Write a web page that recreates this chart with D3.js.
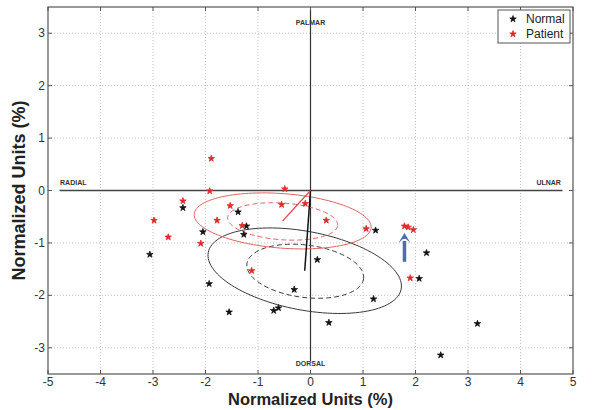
<!DOCTYPE html>
<html><head><meta charset="utf-8">
<script src="https://cdn.jsdelivr.net/npm/d3@7"></script>
<style>body{margin:0;background:#fff}svg{display:block}</style>
</head><body><div id="chart"></div>
<script>
const xTicks = [-5,-4,-3,-2,-1,0,1,2,3,4,5];
const yTicks = [-3,-2,-1,0,1,2,3];
const seriesNames = ["Normal","Patient"];
const normalX = [-2.43,-2.05,-3.06,-1.38,-1.93,-1.55,-1.22,-1.27,1.24,2.21,0.13,2.07,-0.31,1.20,-0.70,-0.61,0.35,3.18,2.48];
const normalY = [-0.33,-0.79,-1.22,-0.41,-1.78,-2.32,-0.68,-0.84,-0.76,-1.19,-1.32,-1.68,-1.89,-2.07,-2.29,-2.24,-2.52,-2.54,-3.14];
const patientX = [-1.89,-1.92,-2.43,-2.98,-2.71,-2.09,-1.78,-1.53,-0.49,-0.55,-0.10,0.30,-1.30,1.06,1.79,1.86,1.96,-1.12,1.90];
const patientY = [0.61,-0.01,-0.20,-0.57,-0.89,-1.01,-0.57,-0.29,0.03,-0.27,-0.25,-0.57,-0.67,-0.73,-0.68,-0.70,-0.75,-1.53,-1.67];
// ellipses: [cx, cy, semi-major, semi-minor, angle(deg)]
const ellNormalSolid = [-0.11,-1.53,1.87,0.75,-10.8];
const ellNormalDash  = [-0.10,-1.54,1.12,0.50,-7.3];
const ellPatientSolid= [-0.53,-0.58,1.69,0.52,-4.4];
const ellPatientDash = [-0.53,-0.59,1.05,0.35,-4.0];
const arrowX = 1.79, arrowY0 = -1.36, arrowY1 = -0.81;

const W=600,H=410, m={l:48,r:27,t:7,b:36};
const svg=d3.select("#chart").append("svg").attr("width",W).attr("height",H);
const x=d3.scaleLinear().domain([-5,5]).range([m.l,W-m.r]);
const y=d3.scaleLinear().domain([-3.5,3.5]).range([H-m.b,m.t]);
const font="Arial, 'Liberation Sans', sans-serif";

// grid
svg.append("g").selectAll("line").data(xTicks.filter(d=>d>-5&&d<5&&d!==0)).join("line")
 .attr("x1",d=>x(d)).attr("x2",d=>x(d)).attr("y1",y(3.5)).attr("y2",y(-3.5))
 .attr("stroke","#c4c4c4").attr("stroke-width",1).attr("stroke-dasharray","1,2");
svg.append("g").selectAll("line").data(yTicks.filter(d=>d!==0)).join("line")
 .attr("y1",d=>y(d)).attr("y2",d=>y(d)).attr("x1",x(-5)).attr("x2",x(5))
 .attr("stroke","#c4c4c4").attr("stroke-width",1).attr("stroke-dasharray","1,2");

// cross lines
svg.append("line").attr("x1",x(-4.78)).attr("x2",x(4.8)).attr("y1",y(0)).attr("y2",y(0)).attr("stroke","#444").attr("stroke-width",1.3);
svg.append("line").attr("x1",x(0)).attr("x2",x(0)).attr("y1",y(3.45)).attr("y2",y(-3.25)).attr("stroke","#333").attr("stroke-width",1.2);

const lab=(t,px,py,anchor)=>svg.append("text").attr("x",px).attr("y",py).attr("text-anchor",anchor)
 .attr("font-family",font).attr("font-size",7).attr("font-weight","bold").attr("fill","#333").text(t);
lab("PALMAR",x(0),y(3.16),"middle");
lab("DORSAL",x(0),y(-3.34),"middle");
lab("RADIAL",x(-4.77),y(0.1),"start");
lab("ULNAR",x(4.77),y(0.1),"end");

// ellipses
function ell(p){
  const [cx,cy,a,b,ang]=p, t=ang*Math.PI/180;
  const pts=d3.range(0,361,3).map(k=>{const u=k*Math.PI/180;
    const ex=a*Math.cos(u), ey=b*Math.sin(u);
    return [x(cx+ex*Math.cos(t)-ey*Math.sin(t)), y(cy+ex*Math.sin(t)+ey*Math.cos(t))];});
  return d3.line()(pts)+"Z";
}
svg.append("path").attr("d",ell(ellNormalSolid)).attr("fill","none").attr("stroke","#3a3a3a").attr("stroke-width",1);
svg.append("path").attr("d",ell(ellNormalDash)).attr("fill","none").attr("stroke","#3a3a3a").attr("stroke-width",1).attr("stroke-dasharray","5,3");
svg.append("path").attr("d",ell(ellPatientSolid)).attr("fill","none").attr("stroke","#e06464").attr("stroke-width",1);
svg.append("path").attr("d",ell(ellPatientDash)).attr("fill","none").attr("stroke","#e06464").attr("stroke-width",1).attr("stroke-dasharray","5,3");

// mean vectors
svg.append("line").attr("x1",x(0)).attr("y1",y(0)).attr("x2",x(ellNormalSolid[0])).attr("y2",y(ellNormalSolid[1])).attr("stroke","#111").attr("stroke-width",1.5);
svg.append("line").attr("x1",x(0)).attr("y1",y(0)).attr("x2",x(ellPatientSolid[0])).attr("y2",y(ellPatientSolid[1])).attr("stroke","#e04848").attr("stroke-width",1.3);

// points
const star=d3.symbol().type(d3.symbolStar).size(13);
svg.append("g").selectAll("path").data(normalX.map((v,i)=>[v,normalY[i]])).join("path")
 .attr("d",star).attr("transform",d=>`translate(${x(d[0])},${y(d[1])})`).attr("fill","#111").attr("stroke","#111").attr("stroke-width",0.8);
svg.append("g").selectAll("path").data(patientX.map((v,i)=>[v,patientY[i]])).join("path")
 .attr("d",star).attr("transform",d=>`translate(${x(d[0])},${y(d[1])})`).attr("fill","#e02828").attr("stroke","#e02828").attr("stroke-width",0.8);

// arrow
const ax=x(arrowX), ay0=y(arrowY0), ay1=y(arrowY1);
svg.append("line").attr("x1",ax).attr("x2",ax).attr("y1",ay0).attr("y2",ay1+8).attr("stroke","#4a6db5").attr("stroke-width",3.5);
svg.append("path").attr("d",`M${ax},${ay1}L${ax-6},${ay1+10}L${ax-1.5},${ay1+6}L${ax+1.5},${ay1+6}L${ax+6},${ay1+10}Z`).attr("fill","#4a6db5");

// frame
svg.append("rect").attr("x",x(-5)).attr("y",y(3.5)).attr("width",x(5)-x(-5)).attr("height",y(-3.5)-y(3.5))
 .attr("fill","none").attr("stroke","#555").attr("stroke-width",1.2);
// ticks inside
svg.append("g").selectAll("line").data(xTicks).join("line").attr("x1",d=>x(d)).attr("x2",d=>x(d))
 .attr("y1",y(-3.5)).attr("y2",y(-3.5)-4).attr("stroke","#555");
svg.append("g").selectAll("line").data(xTicks).join("line").attr("x1",d=>x(d)).attr("x2",d=>x(d))
 .attr("y1",y(3.5)).attr("y2",y(3.5)+4).attr("stroke","#555");
svg.append("g").selectAll("line").data(yTicks).join("line").attr("y1",d=>y(d)).attr("y2",d=>y(d))
 .attr("x1",x(-5)).attr("x2",x(-5)+4).attr("stroke","#555");
svg.append("g").selectAll("line").data(yTicks).join("line").attr("y1",d=>y(d)).attr("y2",d=>y(d))
 .attr("x1",x(5)).attr("x2",x(5)-4).attr("stroke","#555");

// tick labels
svg.append("g").selectAll("text").data(xTicks).join("text").attr("x",d=>x(d)).attr("y",y(-3.5)+12)
 .attr("text-anchor","middle").attr("font-family",font).attr("font-size",12).attr("fill","#333").text(d=>d);
svg.append("g").selectAll("text").data(yTicks).join("text").attr("x",x(-5)-3).attr("y",d=>y(d)+4)
 .attr("text-anchor","end").attr("font-family",font).attr("font-size",12).attr("fill","#333").text(d=>d);

// axis labels
svg.append("text").attr("x",x(0)).attr("y",H-5).attr("text-anchor","middle").attr("font-family",font)
 .attr("font-size",16.5).attr("font-weight","bold").attr("fill","#222").text("Normalized Units (%)");
svg.append("text").attr("transform",`translate(25,${y(0)}) rotate(-90)`).attr("text-anchor","middle").attr("font-family",font)
 .attr("font-size",18).attr("font-weight","bold").attr("fill","#222").text("Normalized Units (%)");

// legend
const lg=svg.append("g").attr("transform","translate(498,10)");
lg.append("rect").attr("width",72).attr("height",33).attr("fill","#fff").attr("stroke","#555");
seriesNames.forEach((n,i)=>{
  lg.append("path").attr("d",star).attr("transform",`translate(15,${9+i*15})`).attr("fill",i?"#e02828":"#111").attr("stroke",i?"#e02828":"#111").attr("stroke-width",0.8);
  lg.append("text").attr("x",28).attr("y",13+i*15).attr("font-family",font).attr("font-size",12).attr("fill","#222").text(n);
});
</script></body></html>
